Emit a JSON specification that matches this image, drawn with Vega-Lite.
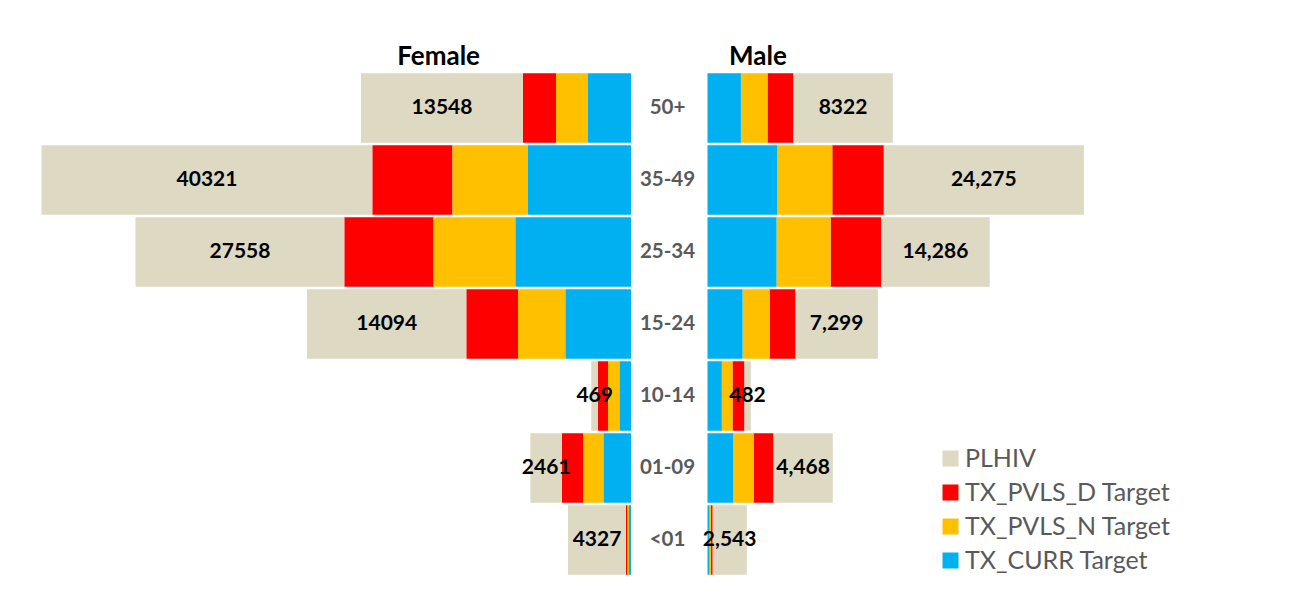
{
  "$schema": "https://vega.github.io/schema/vega-lite/v6.json",
  "background": "white",
  "padding": {"left": 11, "top": 44, "right": 0, "bottom": 0},
  "bounds": "flush",
  "spacing": 76.5,
  "config": {"view": {"stroke": null}},
  "data": {"values": [
    {"age": "50+", "sex": "Female", "measure": "PLHIV", "k": 1, "value": 16200, "label": "13548"},
    {"age": "50+", "sex": "Female", "measure": "TX_PVLS_D Target", "k": 2, "value": 3300, "label": ""},
    {"age": "50+", "sex": "Female", "measure": "TX_PVLS_N Target", "k": 3, "value": 3200, "label": ""},
    {"age": "50+", "sex": "Female", "measure": "TX_CURR Target", "k": 4, "value": 4300, "label": ""},
    {"age": "35-49", "sex": "Female", "measure": "PLHIV", "k": 1, "value": 33100, "label": "40321"},
    {"age": "35-49", "sex": "Female", "measure": "TX_PVLS_D Target", "k": 2, "value": 8000, "label": ""},
    {"age": "35-49", "sex": "Female", "measure": "TX_PVLS_N Target", "k": 3, "value": 7550, "label": ""},
    {"age": "35-49", "sex": "Female", "measure": "TX_CURR Target", "k": 4, "value": 10300, "label": ""},
    {"age": "25-34", "sex": "Female", "measure": "PLHIV", "k": 1, "value": 20900, "label": "27558"},
    {"age": "25-34", "sex": "Female", "measure": "TX_PVLS_D Target", "k": 2, "value": 8900, "label": ""},
    {"age": "25-34", "sex": "Female", "measure": "TX_PVLS_N Target", "k": 3, "value": 8200, "label": ""},
    {"age": "25-34", "sex": "Female", "measure": "TX_CURR Target", "k": 4, "value": 11550, "label": ""},
    {"age": "15-24", "sex": "Female", "measure": "PLHIV", "k": 1, "value": 15950, "label": "14094"},
    {"age": "15-24", "sex": "Female", "measure": "TX_PVLS_D Target", "k": 2, "value": 5150, "label": ""},
    {"age": "15-24", "sex": "Female", "measure": "TX_PVLS_N Target", "k": 3, "value": 4750, "label": ""},
    {"age": "15-24", "sex": "Female", "measure": "TX_CURR Target", "k": 4, "value": 6550, "label": ""},
    {"age": "10-14", "sex": "Female", "measure": "PLHIV", "k": 1, "value": 670, "label": "469"},
    {"age": "10-14", "sex": "Female", "measure": "TX_PVLS_D Target", "k": 2, "value": 1000, "label": ""},
    {"age": "10-14", "sex": "Female", "measure": "TX_PVLS_N Target", "k": 3, "value": 1170, "label": ""},
    {"age": "10-14", "sex": "Female", "measure": "TX_CURR Target", "k": 4, "value": 1130, "label": ""},
    {"age": "01-09", "sex": "Female", "measure": "PLHIV", "k": 1, "value": 3160, "label": "2461"},
    {"age": "01-09", "sex": "Female", "measure": "TX_PVLS_D Target", "k": 2, "value": 2140, "label": ""},
    {"age": "01-09", "sex": "Female", "measure": "TX_PVLS_N Target", "k": 3, "value": 2020, "label": ""},
    {"age": "01-09", "sex": "Female", "measure": "TX_CURR Target", "k": 4, "value": 2740, "label": ""},
    {"age": "<01", "sex": "Female", "measure": "PLHIV", "k": 1, "value": 5800, "label": "4327"},
    {"age": "<01", "sex": "Female", "measure": "TX_PVLS_D Target", "k": 2, "value": 150, "label": ""},
    {"age": "<01", "sex": "Female", "measure": "TX_PVLS_N Target", "k": 3, "value": 150, "label": ""},
    {"age": "<01", "sex": "Female", "measure": "TX_CURR Target", "k": 4, "value": 200, "label": ""},
    {"age": "50+", "sex": "Male", "measure": "PLHIV", "k": 1, "value": 9960, "label": "8322"},
    {"age": "50+", "sex": "Male", "measure": "TX_PVLS_D Target", "k": 2, "value": 2570, "label": ""},
    {"age": "50+", "sex": "Male", "measure": "TX_PVLS_N Target", "k": 3, "value": 2660, "label": ""},
    {"age": "50+", "sex": "Male", "measure": "TX_CURR Target", "k": 4, "value": 3340, "label": ""},
    {"age": "35-49", "sex": "Male", "measure": "PLHIV", "k": 1, "value": 20020, "label": "24,275"},
    {"age": "35-49", "sex": "Male", "measure": "TX_PVLS_D Target", "k": 2, "value": 5140, "label": ""},
    {"age": "35-49", "sex": "Male", "measure": "TX_PVLS_N Target", "k": 3, "value": 5500, "label": ""},
    {"age": "35-49", "sex": "Male", "measure": "TX_CURR Target", "k": 4, "value": 6980, "label": ""},
    {"age": "25-34", "sex": "Male", "measure": "PLHIV", "k": 1, "value": 10860, "label": "14,286"},
    {"age": "25-34", "sex": "Male", "measure": "TX_PVLS_D Target", "k": 2, "value": 5050, "label": ""},
    {"age": "25-34", "sex": "Male", "measure": "TX_PVLS_N Target", "k": 3, "value": 5410, "label": ""},
    {"age": "25-34", "sex": "Male", "measure": "TX_CURR Target", "k": 4, "value": 6900, "label": ""},
    {"age": "15-24", "sex": "Male", "measure": "PLHIV", "k": 1, "value": 8250, "label": "7,299"},
    {"age": "15-24", "sex": "Male", "measure": "TX_PVLS_D Target", "k": 2, "value": 2570, "label": ""},
    {"age": "15-24", "sex": "Male", "measure": "TX_PVLS_N Target", "k": 3, "value": 2710, "label": ""},
    {"age": "15-24", "sex": "Male", "measure": "TX_CURR Target", "k": 4, "value": 3510, "label": ""},
    {"age": "10-14", "sex": "Male", "measure": "PLHIV", "k": 1, "value": 660, "label": "482"},
    {"age": "10-14", "sex": "Male", "measure": "TX_PVLS_D Target", "k": 2, "value": 1170, "label": ""},
    {"age": "10-14", "sex": "Male", "measure": "TX_PVLS_N Target", "k": 3, "value": 1070, "label": ""},
    {"age": "10-14", "sex": "Male", "measure": "TX_CURR Target", "k": 4, "value": 1430, "label": ""},
    {"age": "01-09", "sex": "Male", "measure": "PLHIV", "k": 1, "value": 5950, "label": "4,468"},
    {"age": "01-09", "sex": "Male", "measure": "TX_PVLS_D Target", "k": 2, "value": 1940, "label": ""},
    {"age": "01-09", "sex": "Male", "measure": "TX_PVLS_N Target", "k": 3, "value": 2070, "label": ""},
    {"age": "01-09", "sex": "Male", "measure": "TX_CURR Target", "k": 4, "value": 2570, "label": ""},
    {"age": "<01", "sex": "Male", "measure": "PLHIV", "k": 1, "value": 3430, "label": "2,543"},
    {"age": "<01", "sex": "Male", "measure": "TX_PVLS_D Target", "k": 2, "value": 150, "label": ""},
    {"age": "<01", "sex": "Male", "measure": "TX_PVLS_N Target", "k": 3, "value": 150, "label": ""},
    {"age": "<01", "sex": "Male", "measure": "TX_CURR Target", "k": 4, "value": 200, "label": ""}
  ]},
  "hconcat": [
    {
      "width": 620,
      "height": 504,
      "title": {"text": "Female", "frame": "group", "anchor": "end", "dx": -151, "font": "Lato", "fontSize": 26, "fontWeight": "bold", "color": "black", "offset": -19, "baseline": "alphabetic"},
      "transform": [{"filter": "datum.sex === 'Female'"}],
      "encoding": {
        "y": {"field": "age", "type": "nominal", "sort": ["50+", "35-49", "25-34", "15-24", "10-14", "01-09", "<01"], "axis": null, "scale": {"paddingInner": 0.035, "paddingOuter": 0.0175}},
        "order": {"field": "k", "type": "quantitative", "sort": "descending"}
      },
      "layer": [
        {
          "mark": {"type": "bar"},
          "encoding": {
            "x": {"field": "value", "type": "quantitative", "stack": "zero", "scale": {"domain": [0, 62000], "reverse": true, "nice": false}, "axis": null},
            "color": {"field": "measure", "type": "nominal",
              "scale": {"domain": ["PLHIV", "TX_PVLS_D Target", "TX_PVLS_N Target", "TX_CURR Target"], "range": ["#DDD9C3", "#FF0000", "#FFC000", "#00B0F0"]},
              "legend": {"orient": "none", "legendX": 927, "legendY": 374, "title": null, "symbolType": "square", "symbolSize": 256, "symbolStrokeWidth": 0, "labelFont": "Lato", "labelFontSize": 25, "labelColor": "#595959", "rowPadding": 8, "labelOffset": 2, "padding": 0, "labelLimit": 400}}
          }
        },
        {
          "mark": {"type": "text", "font": "Lato", "fontWeight": "bold", "fontSize": 21, "color": "black"},
          "encoding": {
            "x": {"field": "value", "type": "quantitative", "stack": "zero", "bandPosition": 0.5},
            "detail": {"field": "measure"},
            "text": {"field": "label"}
          }
        }
      ]
    },
    {
      "width": 590,
      "height": 504,
      "title": {"text": "Male", "frame": "group", "anchor": "start", "dx": 21.5, "font": "Lato", "fontSize": 26, "fontWeight": "bold", "color": "black", "offset": -19, "baseline": "alphabetic"},
      "transform": [{"filter": "datum.sex === 'Male'"}],
      "encoding": {
        "y": {"field": "age", "type": "nominal", "sort": ["50+", "35-49", "25-34", "15-24", "10-14", "01-09", "<01"],
          "scale": {"paddingInner": 0.035, "paddingOuter": 0.0175},
          "axis": {"orient": "left", "title": null, "domain": false, "ticks": false, "tickSize": 0, "labelPadding": 40.5, "labelAlign": "center", "labelFont": "Lato", "labelFontWeight": "bold", "labelFontSize": 20.5, "labelColor": "#595959"}},
        "order": {"field": "k", "type": "quantitative", "sort": "descending"}
      },
      "layer": [
        {
          "mark": {"type": "bar"},
          "encoding": {
            "x": {"field": "value", "type": "quantitative", "stack": "zero", "scale": {"domain": [0, 59000], "nice": false}, "axis": null},
            "color": {"field": "measure", "type": "nominal"}
          }
        },
        {
          "mark": {"type": "text", "font": "Lato", "fontWeight": "bold", "fontSize": 21, "color": "black"},
          "encoding": {
            "x": {"field": "value", "type": "quantitative", "stack": "zero", "bandPosition": 0.5},
            "detail": {"field": "measure"},
            "text": {"field": "label"}
          }
        }
      ]
    }
  ]
}
